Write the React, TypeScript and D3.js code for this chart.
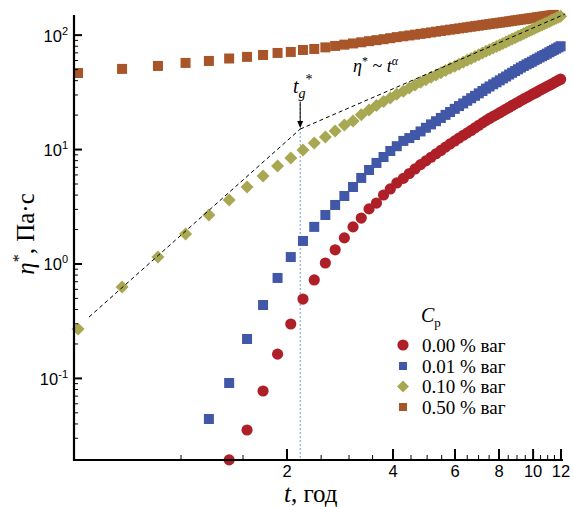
import React from "react";
import * as d3 from "d3";

// time grid, h
const T = [0.51, 0.68, 0.86, 1.03, 1.2, 1.37, 1.54, 1.71, 1.88, 2.05, 2.22, 2.39, 2.57, 2.74, 2.91, 3.08, 3.25, 3.42, 3.59, 3.76, 3.93, 4.1, 4.28, 4.45, 4.62, 4.79, 4.96, 5.13, 5.3, 5.47, 5.64, 5.81, 5.99, 6.16, 6.33, 6.5, 6.67, 6.84, 7.01, 7.18, 7.35, 7.52, 7.7, 7.87, 8.04, 8.21, 8.38, 8.55, 8.72, 8.89, 9.06, 9.23, 9.41, 9.58, 9.75, 9.92, 10.09, 10.26, 10.43, 10.6, 10.77, 10.94, 11.12, 11.29, 11.46, 11.63, 11.8, 11.97];

const eta000 = [null, null, null, null, null, 0.0194, 0.0354, 0.0776, 0.163, 0.299, 0.494, 0.725, 1.02, 1.33, 1.69, 2.11, 2.52, 3.03, 3.41, 4.01, 4.53, 5.11, 5.6, 6.18, 6.77, 7.39, 7.96, 8.57, 9.19, 9.82, 10.5, 11.2, 11.9, 12.6, 13.3, 14.0, 14.7, 15.5, 16.3, 17.1, 17.9, 18.7, 19.5, 20.2, 21.0, 21.8, 22.6, 23.4, 24.3, 25.1, 25.9, 26.8, 27.7, 28.5, 29.4, 30.2, 31.1, 31.9, 32.9, 33.8, 34.6, 35.5, 36.5, 37.4, 38.3, 39.3, 40.3, 41.2];
const eta001 = [null, null, null, null, 0.0442, 0.0912, 0.221, 0.438, 0.755, 1.15, 1.59, 2.11, 2.68, 3.28, 3.93, 4.71, 5.65, 6.63, 7.64, 8.61, 9.72, 10.7, 11.9, 12.6, 13.4, 14.4, 15.5, 16.6, 17.7, 18.9, 20.1, 21.3, 22.7, 24.0, 25.3, 26.7, 28.1, 29.5, 31.0, 32.5, 34.1, 35.6, 37.2, 38.7, 40.3, 41.9, 43.5, 45.3, 46.9, 48.6, 50.3, 52.1, 53.8, 55.5, 57.0, 58.6, 60.4, 62.1, 63.8, 65.5, 67.1, 68.9, 70.9, 72.8, 74.5, 76.3, 78.2, 80.0];
const eta010 = [0.27, 0.63, 1.15, 1.83, 2.68, 3.63, 4.71, 5.88, 7.19, 8.45, 9.93, 11.4, 12.9, 14.5, 16.4, 17.8, 20.2, 22.2, 24.3, 26.3, 28.2, 30.4, 32.4, 34.6, 36.6, 38.7, 40.7, 42.8, 44.8, 46.9, 49.0, 51.3, 53.6, 55.8, 58.1, 60.2, 62.6, 65.0, 67.3, 69.8, 72.2, 74.5, 77.1, 79.6, 82.2, 84.6, 87.2, 89.9, 92.5, 95.1, 97.8, 100.5, 103.3, 106.0, 108.8, 111.5, 114.5, 117.2, 120.1, 122.8, 125.8, 128.6, 131.7, 134.7, 137.6, 140.4, 143.6, 146.5];
const eta050 = [46.7, 50.7, 53.8, 57.2, 59.5, 62.5, 64.6, 67.1, 69.9, 71.3, 74.2, 75.7, 78.2, 80.5, 82.6, 84.6, 86.6, 88.6, 90.4, 92.2, 94.1, 96.1, 97.8, 99.4, 101.0, 102.6, 104.0, 105.7, 107.2, 108.8, 110.2, 111.7, 113.0, 114.5, 115.9, 117.2, 118.6, 119.9, 121.1, 122.5, 123.8, 125.0, 126.3, 127.4, 128.6, 129.7, 130.9, 132.1, 133.4, 134.5, 135.6, 136.8, 137.8, 138.9, 140.0, 141.2, 142.0, 143.2, 144.3, 145.2, 146.0, 147.2, 148.2, 149.3, 150.3];

// power-law guides
const fitLow = [[0.548, 0.344], [2.18, 15.1]];
const fitHigh = [[2.18, 15.1], [12.33, 153]];
const tg = 2.18;

const legendLabels = ["0.00 % ваг", "0.01 % ваг", "0.10 % ваг", "0.50 % ваг"];
const xTickLabels = [2, 4, 6, 8, 10, 12];
const yTickPow = [-1, 0, 1, 2];

const RED = "#ae1f28", BLUE = "#4157a7", OLIVE = "#a9a852", BROWN = "#a9552a";
const SANS = "'Liberation Sans', Arial, sans-serif";
const SERIF = "'Liberation Serif', 'Times New Roman', serif";

function pts(vals: (number | null)[]) {
  return vals.map((v, i) => [T[i], v] as [number, number | null]).filter(d => d[1] != null && d[0] != null) as [number, number][];
}

export default function App() {
  const W = 573, H = 507;
  const x = d3.scaleLog().domain([0.4966, 12.08]).range([74, 562]);
  const y = d3.scaleLog().domain([0.01936, 150]).range([460, 15]);
  const line = d3.line<number[]>().x(d => x(d[0])).y(d => y(d[1]));

  const xMinor = d3.range(1, 12.01, 0.5).filter(v => !xTickLabels.includes(v));
  const yMinor = y.ticks().filter(v => {
    const m = v / Math.pow(10, Math.floor(Math.log10(v) + 1e-9));
    return Math.round(m) !== 1 && v > 0.021 && v < 150;
  });

  const diamond = (cx: number, cy: number, r: number) =>
    `M${cx},${cy - r}L${cx + r},${cy}L${cx},${cy + r}L${cx - r},${cy}Z`;

  const legendY = [345, 366, 386.5, 407];

  return (
    <svg width={W} height={H} style={{ position: "absolute", left: 0, top: 0, background: "#fff" }}>
      {/* t_g vertical line */}
      <line x1={x(tg)} x2={x(tg)} y1={100} y2={460} stroke="#6f9bd0" strokeWidth={1} strokeDasharray="2,2" />

      {/* markers */}
      {pts(eta050).map((d, i) => (
        <rect key={"b" + i} x={x(d[0]) - 5} y={y(d[1]) - 5} width={10} height={10} fill={BROWN} />
      ))}
      {pts(eta000).map((d, i) => (
        <circle key={"r" + i} cx={x(d[0])} cy={y(d[1])} r={5.6} fill={RED} />
      ))}
      {pts(eta001).map((d, i) => (
        <rect key={"u" + i} x={x(d[0]) - 5} y={y(d[1]) - 5} width={10} height={10} fill={BLUE} />
      ))}
      {pts(eta010).map((d, i) => (
        <path key={"o" + i} d={diamond(x(d[0]), y(d[1]), 6.5)} fill={OLIVE} />
      ))}

      {/* fits */}
      <path d={line(fitLow) || ""} fill="none" stroke="#000" strokeWidth={1} strokeDasharray="4,3" />
      <path d={line(fitHigh) || ""} fill="none" stroke="#000" strokeWidth={1} strokeDasharray="4,3" />

      {/* arrow */}
      <line x1={x(tg)} x2={x(tg)} y1={102} y2={122} stroke="#000" strokeWidth={1} />
      <path d={`M${x(tg) - 3},${121}L${x(tg) + 3},${121}L${x(tg)},${128}Z`} fill="#000" />

      {/* axes */}
      <line x1={74} x2={74} y1={15} y2={461} stroke="#000" strokeWidth={2.2} />
      <line x1={73} x2={563} y1={460} y2={460} stroke="#000" strokeWidth={2.2} />
      {yTickPow.map(p => (
        <g key={"yt" + p}>
          <line x1={74} x2={82} y1={y(Math.pow(10, p))} y2={y(Math.pow(10, p))} stroke="#000" strokeWidth={2} />
          <text x={68} y={y(Math.pow(10, p)) + 6.5} textAnchor="end" fontFamily={SANS} fontSize={16.5}>
            10<tspan dy={-7} fontSize={11}>{p}</tspan>
          </text>
        </g>
      ))}
      {yMinor.map(v => (
        <line key={"ym" + v} x1={74} x2={78} y1={y(v)} y2={y(v)} stroke="#000" strokeWidth={1} />
      ))}
      {xTickLabels.map(v => (
        <g key={"xt" + v}>
          <line x1={x(v)} x2={x(v)} y1={460} y2={449} stroke="#000" strokeWidth={2} />
          <text x={x(v)} y={477} textAnchor="middle" fontFamily={SANS} fontSize={16.5}>{v}</text>
        </g>
      ))}
      {xMinor.map(v => (
        <line key={"xm" + v} x1={x(v)} x2={x(v)} y1={460} y2={455} stroke="#000" strokeWidth={1} />
      ))}

      {/* axis titles */}
      <text x={284} y={502} fontFamily={SERIF} fontSize={25}>
        <tspan fontStyle="italic">t</tspan>, год
      </text>
      <text transform="translate(34,234) rotate(-90)" textAnchor="middle" fontFamily={SERIF} fontSize={25}>
        <tspan fontStyle="italic">η</tspan><tspan dy={-10} fontSize={16}>*</tspan><tspan dy={10}>, Па·с</tspan>
      </text>

      {/* annotations */}
      <text x={293} y={93} fontFamily={SERIF} fontSize={20} fontStyle="italic">
        t<tspan dy={5} fontSize={14}>g</tspan><tspan dy={-14} fontSize={14} fontStyle="normal">*</tspan>
      </text>
      <text x={353} y={72} fontFamily={SERIF} fontSize={18}>
        <tspan fontStyle="italic">η</tspan><tspan dy={-7} fontSize={12}>*</tspan><tspan dy={7}> ~ </tspan>
        <tspan fontStyle="italic">t</tspan><tspan dy={-7} fontSize={12} fontStyle="italic">α</tspan>
      </text>

      {/* legend */}
      <text x={421} y={322} fontFamily={SERIF} fontSize={20}>
        <tspan fontStyle="italic">C</tspan><tspan dy={5} fontSize={13}>p</tspan>
      </text>
      <circle cx={403} cy={legendY[0]} r={5.6} fill={RED} />
      <rect x={399} y={legendY[1] - 4} width={8} height={8} fill={BLUE} />
      <path d={diamond(403, legendY[2], 6)} fill={OLIVE} />
      <rect x={399} y={legendY[3] - 4} width={8} height={8} fill={BROWN} />
      {legendLabels.map((s, i) => (
        <text key={s} x={422} y={legendY[i] + 6.5} fontFamily={SERIF} fontSize={19}>{s}</text>
      ))}
    </svg>
  );
}
